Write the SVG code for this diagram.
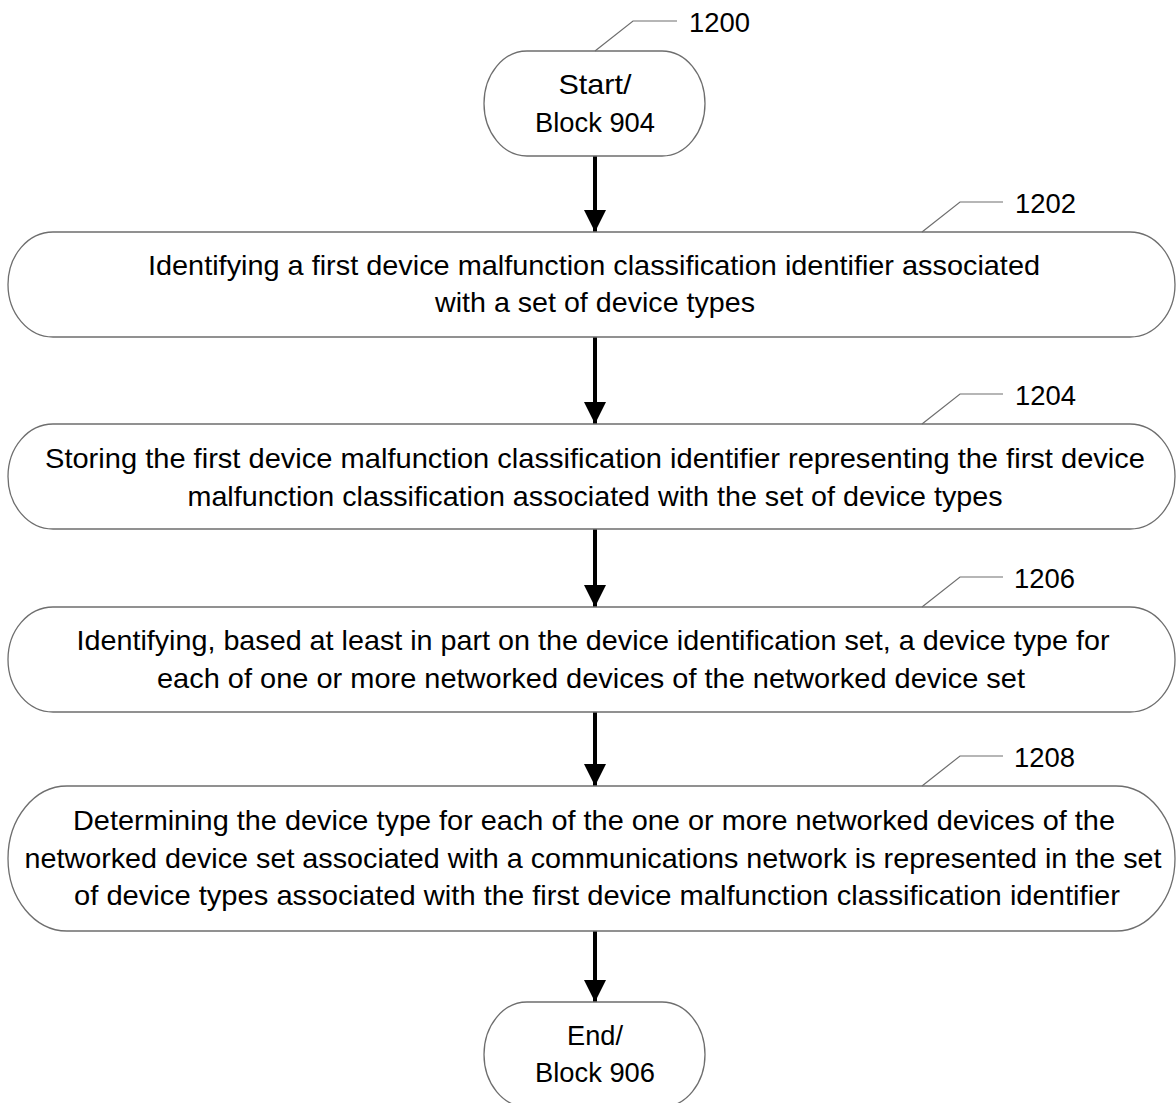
<svg xmlns="http://www.w3.org/2000/svg" width="1176" height="1103" viewBox="0 0 1176 1103">
<style>
.shape{fill:#fff;stroke:#6e6e6e;stroke-width:1.3}
.lead{fill:none;stroke:#6e6e6e;stroke-width:1.2}
.conn{stroke:#000;stroke-width:4;fill:none}
text{font-family:"Liberation Sans",Arial,sans-serif;font-size:28px;fill:#000}
.c{text-anchor:middle}
</style>
<defs>
<marker id="ah" markerUnits="userSpaceOnUse" markerWidth="24" markerHeight="22" refX="22" refY="11" orient="auto">
<path d="M0,0 L22,11 L0,22 Z" fill="#000"/>
</marker>
</defs>
<g id="connectors">
<line class="conn" x1="595" y1="156" x2="595" y2="232" marker-end="url(#ah)"/>
<line class="conn" x1="595" y1="337" x2="595" y2="424" marker-end="url(#ah)"/>
<line class="conn" x1="595" y1="529" x2="595" y2="607" marker-end="url(#ah)"/>
<line class="conn" x1="595" y1="712" x2="595" y2="786" marker-end="url(#ah)"/>
<line class="conn" x1="595" y1="931" x2="595" y2="1002" marker-end="url(#ah)"/>
</g>
<g id="n1200">
<path class="shape" d="M527,51 H662 A43,52.5 0 0 1 662,156 H527 A43,52.5 0 0 1 527,51 Z"/>
<text class="c" x="595" y="94" textLength="73" lengthAdjust="spacingAndGlyphs">Start/</text>
<text class="c" x="595" y="132" textLength="120" lengthAdjust="spacingAndGlyphs">Block 904</text>
<polyline class="lead" points="595,51 633,21 677,21"/>
<text x="689" y="32" textLength="61" lengthAdjust="spacingAndGlyphs">1200</text>
</g>
<g id="n1202">
<path class="shape" d="M53,232 H1130 A45,52.5 0 0 1 1130,337 H53 A45,52.5 0 0 1 53,232 Z"/>
<text class="c" x="594" y="275" textLength="892" lengthAdjust="spacingAndGlyphs">Identifying a first device malfunction classification identifier associated</text>
<text class="c" x="595" y="312" textLength="320" lengthAdjust="spacingAndGlyphs">with a set of device types</text>
<polyline class="lead" points="922,232 960,202 1003,202"/>
<text x="1015" y="213" textLength="61" lengthAdjust="spacingAndGlyphs">1202</text>
</g>
<g id="n1204">
<path class="shape" d="M53,424 H1130 A45,52.5 0 0 1 1130,529 H53 A45,52.5 0 0 1 53,424 Z"/>
<text class="c" x="595" y="468" textLength="1100" lengthAdjust="spacingAndGlyphs">Storing the first device malfunction classification identifier representing the first device</text>
<text class="c" x="595" y="506" textLength="815" lengthAdjust="spacingAndGlyphs">malfunction classification associated with the set of device types</text>
<polyline class="lead" points="922,424 960,394 1003,394"/>
<text x="1015" y="405" textLength="61" lengthAdjust="spacingAndGlyphs">1204</text>
</g>
<g id="n1206">
<path class="shape" d="M53,607 H1130 A45,52.5 0 0 1 1130,712 H53 A45,52.5 0 0 1 53,607 Z"/>
<text class="c" x="593" y="650" textLength="1033" lengthAdjust="spacingAndGlyphs">Identifying, based at least in part on the device identification set, a device type for</text>
<text class="c" x="591" y="688" textLength="868" lengthAdjust="spacingAndGlyphs">each of one or more networked devices of the networked device set</text>
<polyline class="lead" points="922,607 960,577 1003,577"/>
<text x="1014" y="588" textLength="61" lengthAdjust="spacingAndGlyphs">1206</text>
</g>
<g id="n1208">
<path class="shape" d="M67,786 H1116 A59,72.5 0 0 1 1116,931 H67 A59,72.5 0 0 1 67,786 Z"/>
<text class="c" x="594" y="830" textLength="1042" lengthAdjust="spacingAndGlyphs">Determining the device type for each of the one or more networked devices of the</text>
<text class="c" x="593" y="868" textLength="1137" lengthAdjust="spacingAndGlyphs">networked device set associated with a communications network is represented in the set</text>
<text class="c" x="597" y="905" textLength="1046" lengthAdjust="spacingAndGlyphs">of device types associated with the first device malfunction classification identifier</text>
<polyline class="lead" points="922,786 960,756 1003,756"/>
<text x="1014" y="767" textLength="61" lengthAdjust="spacingAndGlyphs">1208</text>
</g>
<g id="end">
<path class="shape" d="M527,1002 H662 A43,52.5 0 0 1 662,1107 H527 A43,52.5 0 0 1 527,1002 Z"/>
<text class="c" x="595" y="1045" textLength="56" lengthAdjust="spacingAndGlyphs">End/</text>
<text class="c" x="595" y="1082" textLength="120" lengthAdjust="spacingAndGlyphs">Block 906</text>
</g>
</svg>
